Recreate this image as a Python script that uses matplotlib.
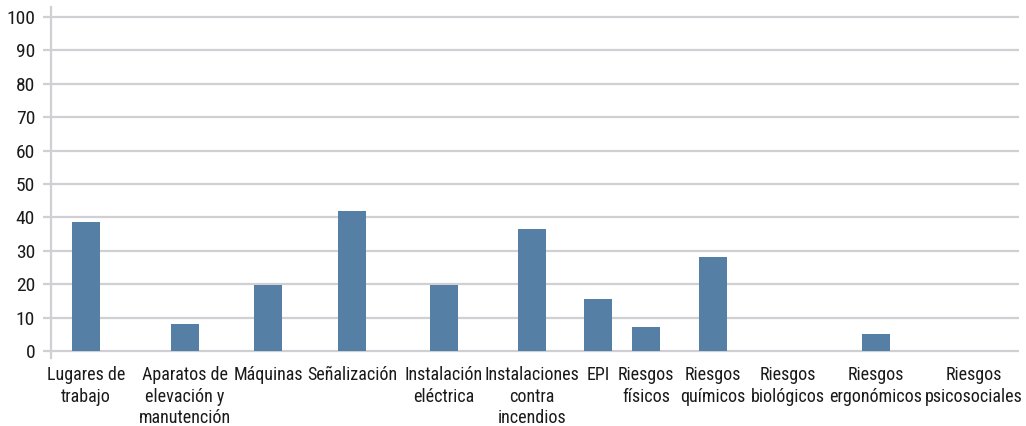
import numpy as np
import matplotlib
matplotlib.use("Agg")
import matplotlib.pyplot as plt

plt.rcParams['font.family'] = ['Roboto Condensed', 'Liberation Sans', 'DejaVu Sans']

categories = ["Lugares de\ntrabajo", "Aparatos de\nelevación y\nmanutención", "Máquinas",
              "Señalización", "Instalación\neléctrica", "Instalaciones\ncontra\nincendios",
              "EPI", "Riesgos\nfísicos", "Riesgos\nquímicos", "Riesgos\nbiológicos",
              "Riesgos\nergonómicos", "Riesgos\npsicosociales"]
values = [38.7, 8.0, 19.7, 42.0, 19.7, 36.6, 15.7, 7.3, 28.2, 0, 5.2, 0]
yticks = list(range(0, 101, 10))

# layout: category centres follow the uneven spacing of the original
xpos = [86, 185, 268, 352.5, 444, 532, 598, 646, 713, 788, 876, 974]

fig = plt.figure(figsize=(10.26, 4.26), dpi=100)
ax = fig.add_axes([51/1026, (426-358)/426, (1019-51)/1026, (358-7)/426])

ax.bar(xpos, values, width=28, color='#557fa5', zorder=3)

grid_c = '#cfcfd4'
ax.set_xlim(51, 1019)
ax.set_ylim(-2.1, 103)
ax.set_yticks(yticks)
ax.yaxis.grid(True, color=grid_c, linewidth=1.6, zorder=0)
ax.tick_params(axis='y', length=5.5, width=1.6, color=grid_c, pad=6, labelsize=14, labelcolor='#1a1a1a')

ax.set_xticks(xpos)
ax.set_xticklabels(categories, fontsize=13, color='#1a1a1a', linespacing=1.25)
ax.tick_params(axis='x', length=0, pad=6)

for s in ['top', 'right', 'bottom']:
    ax.spines[s].set_visible(False)
ax.spines['left'].set_color(grid_c)
ax.spines['left'].set_linewidth(1.6)

fig.savefig("out.png", dpi=100)
